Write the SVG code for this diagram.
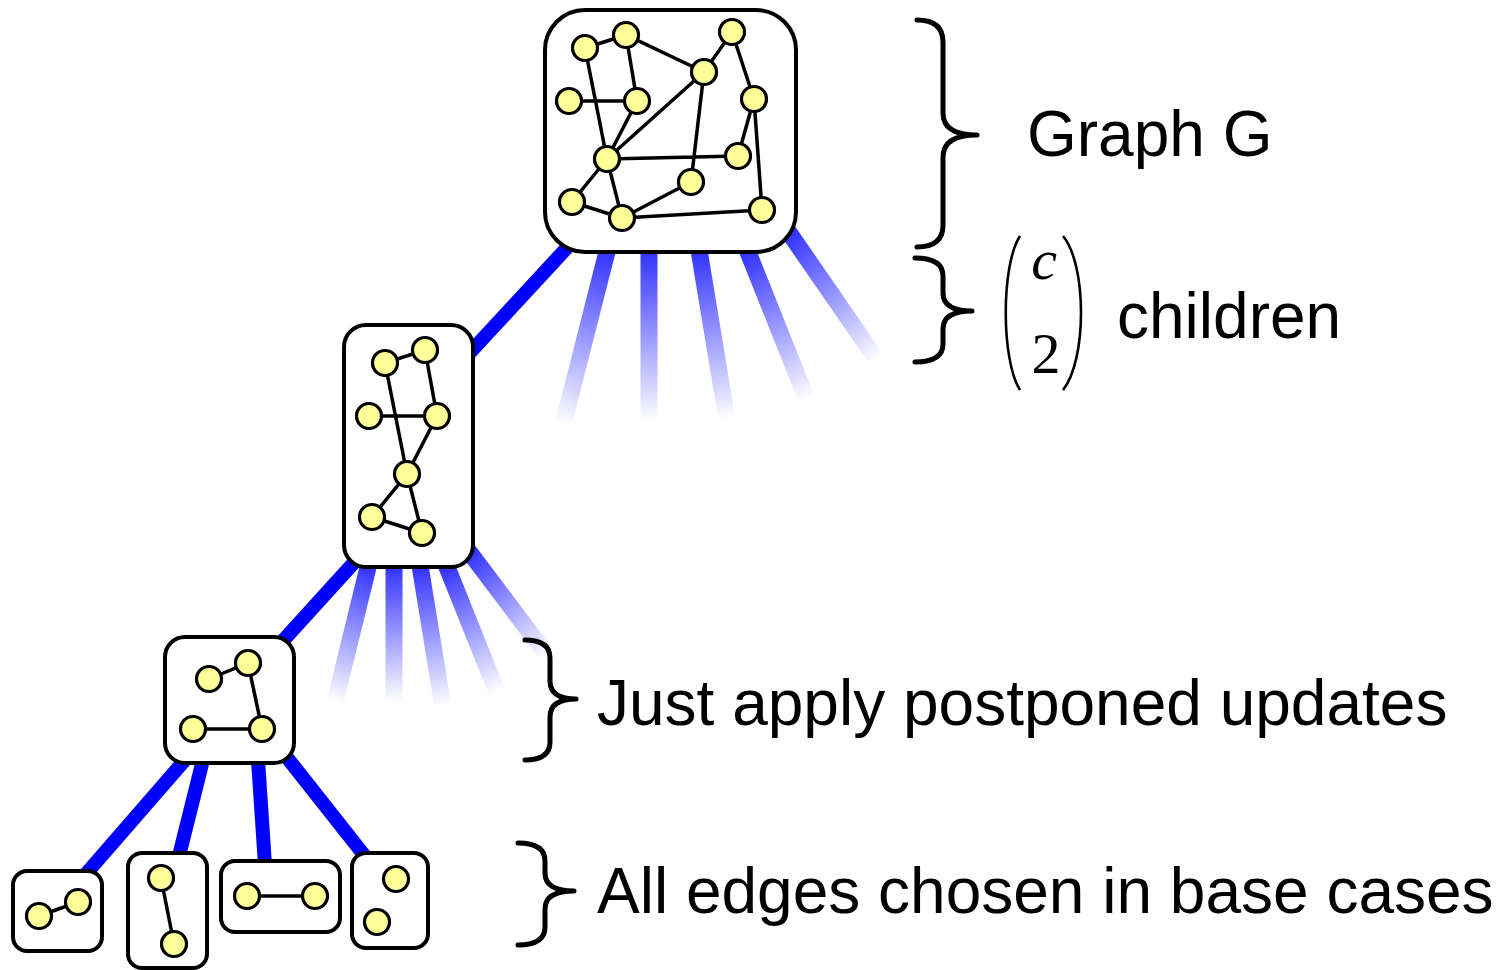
<svg xmlns="http://www.w3.org/2000/svg" width="1502" height="970" viewBox="0 0 1502 970">
<style>
.box{fill:#fff;stroke:#000;stroke-width:4}
.e{stroke:#000;stroke-width:3.5;fill:none}
.n{fill:#ffff99;stroke:#000;stroke-width:3.2}
.solid{stroke:#0000ff;stroke-width:14;fill:none}
.fade{stroke-width:17;fill:none}
.brace{fill:none;stroke:#000;stroke-width:5;stroke-linecap:round;stroke-linejoin:round}
.lbl{font-family:"Liberation Sans",Arial,sans-serif;font-size:64px;fill:#000}
.math{font-family:"Liberation Serif","Times New Roman",serif;font-size:58px;fill:#000}
.paren{fill:none;stroke:#000;stroke-width:2.6}
</style>
<defs>
<linearGradient id="fs"><stop offset="0" stop-color="#0000ff" stop-opacity="0.8"/><stop offset="1" stop-color="#0000ff" stop-opacity="0"/></linearGradient>
<linearGradient id="gL1" href="#fs" gradientUnits="userSpaceOnUse" x1="607" y1="252" x2="563" y2="425"/>
<linearGradient id="gL2" href="#fs" gradientUnits="userSpaceOnUse" x1="649" y1="252" x2="649" y2="422"/>
<linearGradient id="gL3" href="#fs" gradientUnits="userSpaceOnUse" x1="699" y1="252" x2="727" y2="420"/>
<linearGradient id="gL4" href="#fs" gradientUnits="userSpaceOnUse" x1="748" y1="252" x2="807" y2="400"/>
<linearGradient id="gL5" href="#fs" gradientUnits="userSpaceOnUse" x1="788" y1="236" x2="877" y2="360"/>
<linearGradient id="gM1" href="#fs" gradientUnits="userSpaceOnUse" x1="368" y1="567" x2="335" y2="702"/>
<linearGradient id="gM2" href="#fs" gradientUnits="userSpaceOnUse" x1="394" y1="567" x2="394" y2="702"/>
<linearGradient id="gM3" href="#fs" gradientUnits="userSpaceOnUse" x1="420" y1="567" x2="443" y2="707"/>
<linearGradient id="gM4" href="#fs" gradientUnits="userSpaceOnUse" x1="447" y1="567" x2="497" y2="692"/>
<linearGradient id="gM5" href="#fs" gradientUnits="userSpaceOnUse" x1="468" y1="556" x2="547" y2="655"/>
</defs>
<rect width="1502" height="970" fill="#fff"/>

<g id="connectors">
<line class="fade" stroke="url(#gL1)" x1="612" y1="232" x2="563" y2="425"/>
<line class="fade" stroke="url(#gL2)" x1="649" y1="232" x2="649" y2="422"/>
<line class="fade" stroke="url(#gL3)" x1="696" y1="232" x2="727" y2="420"/>
<line class="fade" stroke="url(#gL4)" x1="740" y1="232" x2="807" y2="400"/>
<line class="fade" stroke="url(#gL5)" x1="770" y1="205" x2="877" y2="360"/>
<line class="fade" stroke="url(#gM1)" x1="373" y1="547" x2="335" y2="702"/>
<line class="fade" stroke="url(#gM2)" x1="394" y1="547" x2="394" y2="702"/>
<line class="fade" stroke="url(#gM3)" x1="417" y1="547" x2="443" y2="707"/>
<line class="fade" stroke="url(#gM4)" x1="439" y1="547" x2="497" y2="692"/>
<line class="fade" stroke="url(#gM5)" x1="455" y1="533" x2="547" y2="655"/>
<line class="solid" x1="600" y1="212" x2="440" y2="385"/>
<line class="solid" x1="370" y1="545" x2="270" y2="655"/>
<line class="solid" x1="185" y1="760" x2="85" y2="875"/>
<line class="solid" x1="203" y1="760" x2="178" y2="860"/>
<line class="solid" x1="258" y1="760" x2="265" y2="865"/>
<line class="solid" x1="285" y1="755" x2="368" y2="860"/>
</g>

<g id="graphG">
<rect class="box" x="545" y="10" width="251" height="242" rx="40"/>
<path class="e" d="M585,48 L626,35 L704,72 M626,35 L637,101 M585,48 L607,159 M569,101 L637,101 L607,159 M704,72 L732,32 L754,99 M704,72 L607,159 M704,72 L691,182 M754,99 L738,156 M754,99 L762,210 M607,159 L738,156 M607,159 L572,202 L622,218 M607,159 L622,218 L691,182 M622,218 L762,210"/>
<circle class="n" cx="585" cy="48" r="12.5"/>
<circle class="n" cx="626" cy="35" r="12.5"/>
<circle class="n" cx="732" cy="32" r="12.5"/>
<circle class="n" cx="704" cy="72" r="12.5"/>
<circle class="n" cx="569" cy="101" r="12.5"/>
<circle class="n" cx="637" cy="101" r="12.5"/>
<circle class="n" cx="754" cy="99" r="12.5"/>
<circle class="n" cx="607" cy="159" r="12.5"/>
<circle class="n" cx="738" cy="156" r="12.5"/>
<circle class="n" cx="691" cy="182" r="12.5"/>
<circle class="n" cx="572" cy="202" r="12.5"/>
<circle class="n" cx="622" cy="218" r="12.5"/>
<circle class="n" cx="762" cy="210" r="12.5"/>
</g>

<g id="child1">
<rect class="box" x="344" y="325" width="129" height="242" rx="22"/>
<path class="e" d="M385,363 L425,350 L437,416 M385,363 L407,474 M369,416 L437,416 L407,474 L372,517 L422,533 L407,474"/>
<circle class="n" cx="385" cy="363" r="12.5"/>
<circle class="n" cx="425" cy="350" r="12.5"/>
<circle class="n" cx="369" cy="416" r="12.5"/>
<circle class="n" cx="437" cy="416" r="12.5"/>
<circle class="n" cx="407" cy="474" r="12.5"/>
<circle class="n" cx="372" cy="517" r="12.5"/>
<circle class="n" cx="422" cy="533" r="12.5"/>
</g>

<g id="child2">
<rect class="box" x="165" y="637" width="129" height="126" rx="20"/>
<path class="e" d="M209,679 L248,663 L262,729 L193,729"/>
<circle class="n" cx="209" cy="679" r="12.5"/>
<circle class="n" cx="248" cy="663" r="12.5"/>
<circle class="n" cx="193" cy="729" r="12.5"/>
<circle class="n" cx="262" cy="729" r="12.5"/>
</g>

<g id="base1">
<rect class="box" x="13" y="871" width="89" height="80" rx="14"/>
<path class="e" d="M39,916 L78,902"/>
<circle class="n" cx="39" cy="916" r="12.5"/>
<circle class="n" cx="78" cy="902" r="12.5"/>
</g>
<g id="base2">
<rect class="box" x="128" y="853" width="79" height="115" rx="14"/>
<path class="e" d="M161,878 L174,944"/>
<circle class="n" cx="161" cy="878" r="12.5"/>
<circle class="n" cx="174" cy="944" r="12.5"/>
</g>
<g id="base3">
<rect class="box" x="221" y="861" width="119" height="71" rx="14"/>
<path class="e" d="M247,896 L315,896"/>
<circle class="n" cx="247" cy="896" r="12.5"/>
<circle class="n" cx="315" cy="896" r="12.5"/>
</g>
<g id="base4">
<rect class="box" x="352" y="853" width="76" height="95" rx="14"/>
<circle class="n" cx="396" cy="879" r="12.5"/>
<circle class="n" cx="377" cy="922" r="12.5"/>
</g>

<g id="braces">
<path class="brace" d="M917,20 Q943,20 943,42 L943,113 Q943,135 977,135 Q943,135 943,157 L943,225 Q943,247 917,247"/>
<path class="brace" d="M915,258 Q943,258 943,276 L943,293 Q943,311 972,311 Q943,311 943,329 L943,344 Q943,362 915,362"/>
<path class="brace" d="M525,640 Q550,640 550,658 L550,681 Q550,699 576,699 Q550,699 550,717 L550,742 Q550,760 525,760"/>
<path class="brace" d="M518,843 Q545,843 545,861 L545,873 Q545,891 574,891 Q545,891 545,909 L545,927 Q545,945 518,945"/>
</g>

<g id="labels">
<text class="lbl" x="1027" y="156">Graph G</text>
<path class="paren" d="M1020,236 C1001,265 1001,360 1020,390"/>
<path class="paren" d="M1063,236 C1087,265 1087,360 1063,390"/>
<text class="math" x="1044" y="279" text-anchor="middle" font-style="italic">c</text>
<text class="math" x="1046" y="373" text-anchor="middle">2</text>
<text class="lbl" x="1117" y="338">children</text>
<text class="lbl" x="597" y="725">Just apply postponed updates</text>
<text class="lbl" x="597" y="913">All edges chosen in base cases</text>
</g>
</svg>
